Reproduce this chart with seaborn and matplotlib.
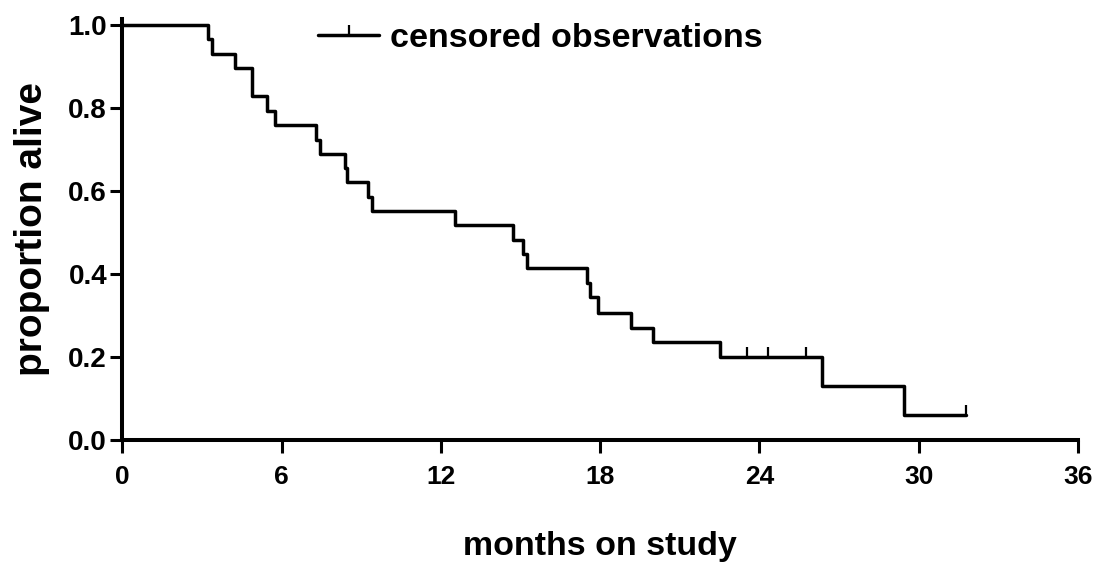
import numpy as np
import pandas as pd
import matplotlib
matplotlib.use("Agg")
import matplotlib.pyplot as plt
from matplotlib.path import Path
from matplotlib.lines import Line2D
import seaborn as sns

# Kaplan-Meier estimate (months, proportion alive)
event_months = [0, 3.24, 3.37, 4.24, 4.90, 5.44, 5.75, 7.30, 7.45, 8.39, 8.47,
                9.27, 9.39, 12.53, 14.73, 15.10, 15.23, 17.51, 17.62, 17.93,
                19.16, 20.00, 22.51, 26.34, 29.44]
survival = [1.0, 0.966, 0.931, 0.897, 0.828, 0.793, 0.759, 0.724, 0.690, 0.655,
            0.621, 0.586, 0.552, 0.517, 0.483, 0.448, 0.414, 0.379, 0.345, 0.305,
            0.270, 0.235, 0.200, 0.130, 0.060]
last_followup = 31.77

# censored observations
censor_months = [23.54, 24.33, 25.74, 31.77]
censor_surv = [0.200, 0.200, 0.200, 0.060]

x_ticks = [0, 6, 12, 18, 24, 30, 36]
y_ticks = [0.0, 0.2, 0.4, 0.6, 0.8, 1.0]

df = pd.DataFrame({"months": event_months + [last_followup],
                   "alive": survival + [survival[-1]]})
cens = pd.DataFrame({"months": censor_months, "alive": censor_surv})

sns.set_theme(style="ticks")
plt.rcParams["font.family"] = ["Liberation Sans", "DejaVu Sans"]
plt.rcParams["font.weight"] = "bold"
plt.rcParams["text.color"] = "black"
plt.rcParams["axes.labelcolor"] = "black"
plt.rcParams["xtick.color"] = "black"
plt.rcParams["ytick.color"] = "black"

fig = plt.figure(figsize=(10.94, 5.63), dpi=100)
ax = fig.add_axes([0.1118, 0.2185, 0.8736, 0.748])

sns.lineplot(data=df, x="months", y="alive", drawstyle="steps-post",
             color="black", linewidth=2.5, ax=ax, sort=True)

# upward tick marker for censoring
tick = Path([(0, 0), (0, 1)], [Path.MOVETO, Path.LINETO])
sns.scatterplot(data=cens, x="months", y="alive", marker=tick, s=15 ** 2,
                color="black", edgecolor="black", linewidth=1.6, ax=ax, zorder=3)

ax.set_xlim(0, 36)
ax.set_ylim(0, 1.015)
ax.set_xticks(x_ticks)
ax.set_yticks(y_ticks)
ax.set_xticklabels([str(t) for t in x_ticks], fontsize=19, fontweight="bold")
ax.set_yticklabels([f"{t:.1f}" for t in y_ticks], fontsize=20, fontweight="bold")
ax.tick_params(axis="x", length=9, width=2.2, pad=9)
ax.tick_params(axis="y", length=9, width=2.2, pad=2)

for side in ["top", "right"]:
    ax.spines[side].set_visible(False)
for side in ["left", "bottom"]:
    ax.spines[side].set_linewidth(2.9)
    ax.spines[side].set_color("black")

ax.set_xlabel("months on study", fontsize=24.5, fontweight="bold", labelpad=30)
ax.set_ylabel("proportion alive", fontsize=28, fontweight="bold", labelpad=13)

handle = Line2D([], [], color="black", linewidth=2.5, marker=tick,
                markersize=15, markeredgewidth=1.6)
ax.legend([handle], ["censored observations"], loc="upper left",
          bbox_to_anchor=(0.205, 0.99), frameon=False, numpoints=1,
          handlelength=1.8, handletextpad=0.3, borderpad=0, borderaxespad=0,
          prop={"size": 24.5, "weight": "bold"})

fig.savefig("out.png", dpi=100, facecolor="white")
